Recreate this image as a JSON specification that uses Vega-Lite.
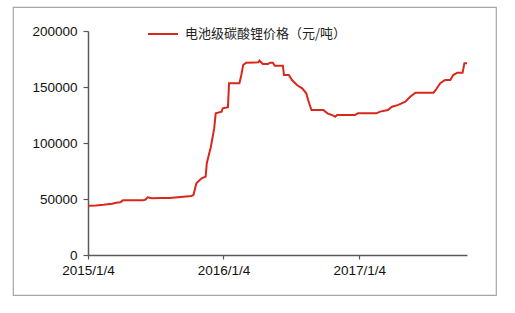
{
  "$schema": "https://vega.github.io/schema/vega-lite/v6.json",
  "width": 483,
  "height": 288,
  "autosize": {"type": "none"},
  "padding": {"left": 13, "top": 7, "right": 19, "bottom": 18},
  "background": "white",
  "config": {
    "view": {"stroke": "#a6a6a6", "strokeWidth": 1.2},
    "axis": {"grid": false}
  },
  "data": {
    "values": [
      {"date": "2015-01-04", "price": 44000},
      {"date": "2015-01-25", "price": 44300},
      {"date": "2015-02-15", "price": 44800},
      {"date": "2015-02-26", "price": 45300},
      {"date": "2015-03-10", "price": 45800},
      {"date": "2015-03-21", "price": 46700},
      {"date": "2015-04-01", "price": 47000},
      {"date": "2015-04-08", "price": 48800},
      {"date": "2015-06-01", "price": 48800},
      {"date": "2015-06-08", "price": 49500},
      {"date": "2015-06-14", "price": 51500},
      {"date": "2015-06-25", "price": 50600},
      {"date": "2015-07-20", "price": 50800},
      {"date": "2015-08-12", "price": 51000},
      {"date": "2015-09-10", "price": 51800},
      {"date": "2015-10-10", "price": 52700},
      {"date": "2015-10-15", "price": 53500},
      {"date": "2015-10-23", "price": 64000},
      {"date": "2015-11-06", "price": 68500},
      {"date": "2015-11-17", "price": 70000},
      {"date": "2015-11-20", "price": 82000},
      {"date": "2015-12-01", "price": 96700},
      {"date": "2015-12-10", "price": 113000},
      {"date": "2015-12-14", "price": 126500},
      {"date": "2015-12-30", "price": 128000},
      {"date": "2016-01-02", "price": 131000},
      {"date": "2016-01-16", "price": 132000},
      {"date": "2016-01-19", "price": 153300},
      {"date": "2016-02-16", "price": 153300},
      {"date": "2016-02-21", "price": 160700},
      {"date": "2016-02-26", "price": 169600},
      {"date": "2016-03-05", "price": 171700},
      {"date": "2016-04-07", "price": 172000},
      {"date": "2016-04-10", "price": 173500},
      {"date": "2016-04-19", "price": 170500},
      {"date": "2016-05-03", "price": 170500},
      {"date": "2016-05-08", "price": 171700},
      {"date": "2016-05-16", "price": 171700},
      {"date": "2016-05-21", "price": 169000},
      {"date": "2016-06-12", "price": 169000},
      {"date": "2016-06-15", "price": 160700},
      {"date": "2016-06-28", "price": 160700},
      {"date": "2016-07-07", "price": 156000},
      {"date": "2016-07-20", "price": 151800},
      {"date": "2016-08-03", "price": 148800},
      {"date": "2016-08-14", "price": 144400},
      {"date": "2016-08-19", "price": 138400},
      {"date": "2016-08-28", "price": 129500},
      {"date": "2016-09-29", "price": 129500},
      {"date": "2016-10-10", "price": 126500},
      {"date": "2016-10-26", "price": 124400},
      {"date": "2016-10-31", "price": 123500},
      {"date": "2016-11-05", "price": 125000},
      {"date": "2016-12-23", "price": 125000},
      {"date": "2016-12-31", "price": 126500},
      {"date": "2017-02-19", "price": 126500},
      {"date": "2017-03-01", "price": 128000},
      {"date": "2017-03-22", "price": 129500},
      {"date": "2017-04-02", "price": 132400},
      {"date": "2017-04-19", "price": 134000},
      {"date": "2017-05-08", "price": 136900},
      {"date": "2017-05-21", "price": 141300},
      {"date": "2017-06-04", "price": 144900},
      {"date": "2017-07-23", "price": 144900},
      {"date": "2017-07-30", "price": 148000},
      {"date": "2017-08-10", "price": 153300},
      {"date": "2017-08-23", "price": 156300},
      {"date": "2017-09-06", "price": 156300},
      {"date": "2017-09-14", "price": 160700},
      {"date": "2017-09-25", "price": 162800},
      {"date": "2017-10-09", "price": 162800},
      {"date": "2017-10-14", "price": 171200},
      {"date": "2017-10-21", "price": 171200}
    ],
    "format": {"parse": {"date": "utc:'%Y-%m-%d'"}}
  },
  "mark": {"type": "line", "strokeWidth": 2, "interpolate": "linear"},
  "encoding": {
    "x": {
      "field": "date",
      "type": "temporal",
      "scale": {
        "type": "utc",
        "domain": [
          {"year": 2015, "month": 1, "date": 4, "utc": true},
          {"year": 2017, "month": 10, "date": 21, "utc": true}
        ],
        "range": [75, 454],
        "nice": false
      },
      "axis": {
        "title": null,
        "offset": -40,
        "values": [
          {"year": 2015, "month": 1, "date": 4, "utc": true},
          {"year": 2016, "month": 1, "date": 4, "utc": true},
          {"year": 2017, "month": 1, "date": 4, "utc": true}
        ],
        "format": "%Y/%-m/%-d",
        "labelFont": "Liberation Sans",
        "labelFontSize": 13.5,
        "labelColor": "#111111",
        "labelPadding": 4,
        "labelFlush": false,
        "labelOverlap": false,
        "domainColor": "#595959",
        "domainWidth": 1.5,
        "tickColor": "#595959",
        "tickWidth": 1.2,
        "tickSize": 4
      }
    },
    "y": {
      "field": "price",
      "type": "quantitative",
      "scale": {"domain": [0, 200000], "range": [248, 24], "nice": false, "zero": true},
      "axis": {
        "title": null,
        "offset": -75,
        "values": [0, 50000, 100000, 150000, 200000],
        "format": "d",
        "labelFont": "Liberation Sans",
        "labelFontSize": 13.5,
        "labelColor": "#111111",
        "labelPadding": 6,
        "domainColor": "#595959",
        "domainWidth": 1.5,
        "tickColor": "#595959",
        "tickWidth": 1.2,
        "tickSize": 5
      }
    },
    "color": {
      "datum": "电池级碳酸锂价格（元/吨）",
      "type": "nominal",
      "scale": {"range": ["#d8281c"]},
      "legend": {
        "title": null,
        "orient": "none",
        "legendX": 134,
        "legendY": 11,
        "symbolType": "stroke",
        "symbolSize": 900,
        "symbolStrokeWidth": 2,
        "labelFont": "Noto Sans CJK SC",
        "labelFontSize": 13,
        "labelColor": "#222222",
        "labelOffset": 6,
        "labelLimit": 400
      }
    }
  }
}
